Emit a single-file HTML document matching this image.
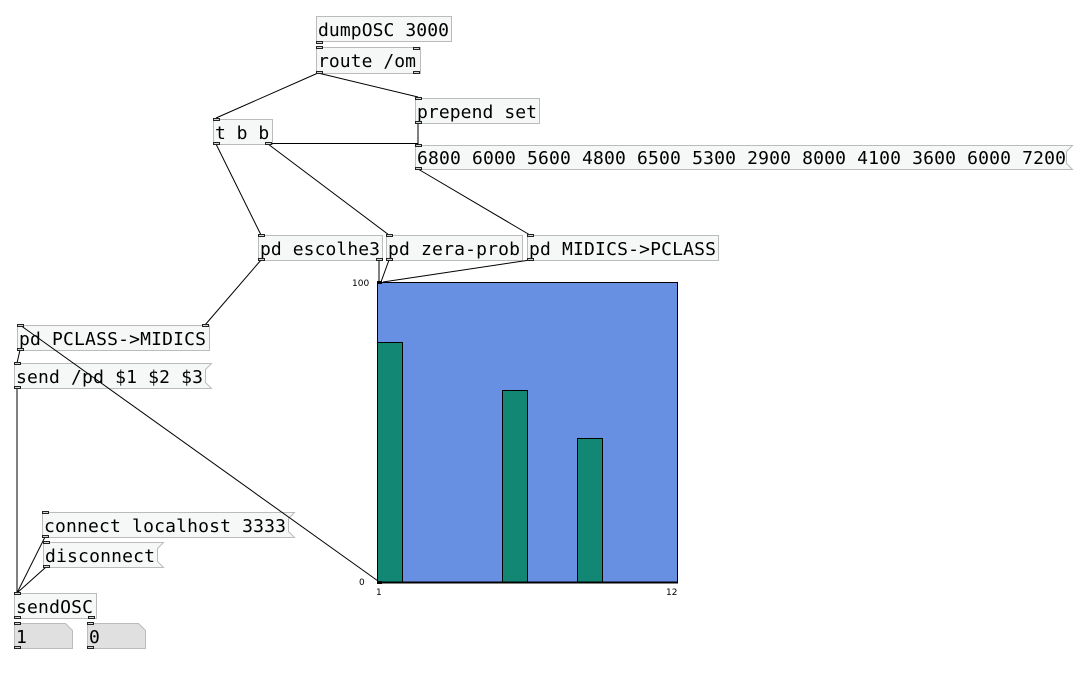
<!DOCTYPE html>
<html><head><meta charset="utf-8"><style>
html,body{margin:0;padding:0;background:#fff;width:1082px;height:674px;overflow:hidden}
svg text{font-family:"DejaVu Sans Mono","Liberation Mono",monospace;font-size:18px;fill:#000}
</style></head><body>
<svg width="1082" height="674" xmlns="http://www.w3.org/2000/svg">
<g fill="#f6f8f8" stroke="#bbb" stroke-width="1">
<rect x="316.5" y="16.5" width="135" height="25"/>
<rect x="316.5" y="47.5" width="104" height="26"/>
<rect x="415.5" y="98.5" width="124" height="25"/>
<rect x="213.5" y="119.5" width="59" height="25"/>
<path d="M415.5 145.5H1072.5L1066.5 151.5V163.5L1072.5 169.5H415.5Z"/>
<rect x="258.5" y="235.5" width="124" height="25"/>
<rect x="386.5" y="235.5" width="136" height="25"/>
<rect x="527.5" y="235.5" width="191" height="25"/>
<rect x="17.5" y="325.5" width="192" height="25"/>
<path d="M14.5 363.5H211.5L205.5 369.5V382.5L211.5 388.5H14.5Z"/>
<path d="M42.5 512.5H294.5L288.5 518.5V531.5L294.5 537.5H42.5Z"/>
<path d="M43.5 542.5H163.5L157.5 548.5V561.5L163.5 567.5H43.5Z"/>
<rect x="14.5" y="593.5" width="82" height="25"/>
</g>
<g fill="#e0e0e0" stroke="#bbb">
<path d="M14.5 623.5H65.5L72.5 630.5V648.5H14.5Z"/>
<path d="M87.5 623.5H138.5L145.5 630.5V648.5H87.5Z"/>
</g>
<text x="318" y="36" textLength="131">dumpOSC 3000</text>
<text x="318" y="67" textLength="98">route /om</text>
<text x="417" y="118" textLength="120">prepend set</text>
<text x="215" y="139">t b b</text>
<text x="417" y="164" textLength="649">6800 6000 5600 4800 6500 5300 2900 8000 4100 3600 6000 7200</text>
<text x="260" y="255" textLength="120">pd escolhe3</text>
<text x="388" y="255" textLength="132">pd zera-prob</text>
<text x="529" y="255" textLength="187">pd MIDICS-&gt;PCLASS</text>
<text x="19" y="345" textLength="187">pd PCLASS-&gt;MIDICS</text>
<text x="16" y="383" textLength="187">send /pd $1 $2 $3</text>
<text x="44" y="532" textLength="242">connect localhost 3333</text>
<text x="45" y="562" textLength="110">disconnect</text>
<text x="16" y="613" textLength="77">sendOSC</text>
<text x="16" y="643">1</text>
<text x="89" y="643">0</text>
<rect x="377.5" y="282.5" width="300" height="300" fill="#6890e2" stroke="#000"/>
<g fill="#128774" stroke="#000">
<rect x="377.5" y="342.5" width="25" height="240"/>
<rect x="502.5" y="390.5" width="25" height="192"/>
<rect x="577.5" y="438.5" width="25" height="144"/>
</g>
<line x1="377" y1="582.5" x2="678" y2="582.5" stroke="#000" stroke-width="2"/>
<g stroke="#000" stroke-width="1" fill="none">
<line x1="318" y1="73" x2="216" y2="118"/>
<line x1="318" y1="73" x2="418" y2="97"/>
<line x1="418" y1="123" x2="418" y2="145"/>
<line x1="268" y1="143.5" x2="418" y2="143.5"/>
<line x1="216" y1="144" x2="261" y2="235"/>
<line x1="268" y1="144" x2="389" y2="235"/>
<line x1="418" y1="169" x2="530" y2="235"/>
<line x1="261" y1="260" x2="205" y2="325"/>
<line x1="379" y1="260" x2="379" y2="282"/>
<line x1="389" y1="260" x2="381" y2="282"/>
<line x1="530" y1="260" x2="383" y2="282"/>
<line x1="20" y1="325" x2="378" y2="581"/>
<line x1="20" y1="350" x2="17" y2="363"/>
<line x1="17" y1="388" x2="17" y2="593"/>
<line x1="45" y1="537" x2="17" y2="593"/>
<line x1="46" y1="567" x2="17" y2="593"/>
</g>
<g fill="#cfd8d0" stroke="#222" stroke-width="1">
<rect x="316.5" y="41.5" width="6" height="2"/><rect x="316.5" y="46.5" width="6" height="2"/><rect x="413.5" y="47.5" width="6" height="2"/>
<rect x="316.5" y="71.5" width="6" height="2"/><rect x="413.5" y="71.5" width="6" height="2"/>
<rect x="415.5" y="97.5" width="6" height="2"/><rect x="415.5" y="121.5" width="6" height="2"/>
<rect x="213.5" y="118.5" width="6" height="2"/><rect x="213.5" y="142.5" width="6" height="2"/><rect x="265.5" y="142.5" width="6" height="2"/>
<rect x="415.5" y="144.5" width="6" height="2"/><rect x="415.5" y="167.5" width="6" height="2"/>
<rect x="258.5" y="234.5" width="6" height="2"/><rect x="258.5" y="258.5" width="6" height="2"/><rect x="376.5" y="258.5" width="6" height="2"/>
<rect x="386.5" y="234.5" width="6" height="2"/><rect x="386.5" y="258.5" width="6" height="2"/>
<rect x="527.5" y="234.5" width="6" height="2"/><rect x="527.5" y="258.5" width="6" height="2"/>
<rect x="17.5" y="324.5" width="6" height="2"/><rect x="202.5" y="324.5" width="6" height="2"/><rect x="17.5" y="348.5" width="6" height="2"/>
<rect x="14.5" y="362.5" width="6" height="2"/><rect x="14.5" y="386.5" width="6" height="2"/>
<rect x="42.5" y="511.5" width="6" height="2"/><rect x="42.5" y="535.5" width="6" height="2"/>
<rect x="43.5" y="541.5" width="6" height="2"/><rect x="43.5" y="565.5" width="6" height="2"/>
<rect x="14.5" y="592.5" width="6" height="2"/><rect x="14.5" y="616.5" width="6" height="2"/><rect x="88.5" y="616.5" width="6" height="2"/>
<rect x="14.5" y="622.5" width="6" height="2"/><rect x="14.5" y="646.5" width="6" height="2"/>
<rect x="87.5" y="622.5" width="6" height="2"/><rect x="87.5" y="646.5" width="6" height="2"/>
</g>
<rect x="377" y="281" width="5" height="3" fill="#000"/>
<rect x="377" y="581" width="5" height="3" fill="#000"/>
<text x="352" y="286" style="font-size:9px;font-family:'DejaVu Sans',sans-serif">100</text>
<text x="359" y="585" style="font-size:9px;font-family:'DejaVu Sans',sans-serif">0</text>
<text x="376" y="595" style="font-size:9px;font-family:'DejaVu Sans',sans-serif">1</text>
<text x="666" y="595" style="font-size:9px;font-family:'DejaVu Sans',sans-serif">12</text>
</svg>
</body></html>
